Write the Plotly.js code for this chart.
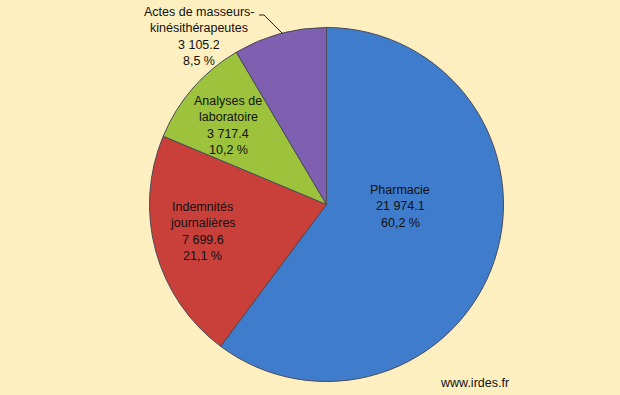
<!DOCTYPE html>
<html>
<head>
<meta charset="utf-8">
<script src="https://cdn.plot.ly/plotly-3.0.1.min.js"></script>
<style>html,body{margin:0;padding:0;background:#FEEFC0;}#chart{width:620px;height:395px;}</style>
</head>
<body>
<div id="chart"></div>
<script>
const categories = ["Pharmacie", "Indemnités journalières", "Analyses de laboratoire", "Actes de masseurs-kinésithérapeutes"];
const labelLines = [["Pharmacie"], ["Indemnités", "journalières"], ["Analyses de", "laboratoire"], ["Actes de masseurs-", "kinésithérapeutes"]];
const values = [21974.1, 7699.6, 3717.4, 3105.2];
const percents = ["60,2 %", "21,1 %", "10,2 %", "8,5 %"];
const valueText = ["21 974.1", "7 699.6", "3 717.4", "3 105.2"];
const colors = ["#3F7CCB", "#C9403A", "#9DC23B", "#7F5FAF"];
// x centre and y of first line (pixels)
const labelPos = [[400, 190], [203, 207], [228, 101], [199, 12]];

const W = 620, H = 395;
const cx = 326.5, cy = 204.5, r = 177;
const lineStep = 16.3;
const font = {family: 'Liberation Sans, Arial, sans-serif', size: 12.5, color: '#111'};

const annotations = [];
categories.forEach((c, i) => {
  const lines = labelLines[i].concat([valueText[i], percents[i]]);
  lines.forEach((t, k) => {
    annotations.push({
      xref: 'paper', yref: 'paper',
      x: labelPos[i][0] / W, y: 1 - (labelPos[i][1] + k * lineStep) / H,
      xanchor: 'center', yanchor: 'middle',
      text: t, showarrow: false, font: font
    });
  });
});
annotations.push({
  xref: 'paper', yref: 'paper', x: 474 / W, y: 1 - 383 / H,
  xanchor: 'center', yanchor: 'middle', showarrow: false,
  text: 'www.irdes.fr', font: font
});

const p = (x, y) => (x / W) + ',' + (1 - y / H);

Plotly.newPlot('chart', [{
  type: 'pie',
  labels: categories,
  values: values,
  sort: false,
  direction: 'clockwise',
  rotation: 0,
  textinfo: 'none',
  hoverinfo: 'label+value+percent',
  marker: {colors: colors, line: {color: '#4a4a5a', width: 1}},
  domain: {x: [(cx - r) / W, (cx + r) / W], y: [1 - (cy + r) / H, 1 - (cy - r) / H]},
  showlegend: false
}], {
  width: W, height: H,
  margin: {l: 0, r: 0, t: 0, b: 0},
  paper_bgcolor: '#FEEFC0',
  plot_bgcolor: '#FEEFC0',
  annotations: annotations,
  shapes: [{
    type: 'path', xref: 'paper', yref: 'paper',
    path: 'M' + p(259, 15) + ' L' + p(264, 15) + ' L' + p(283, 34),
    line: {color: '#222', width: 1}
  }]
}, {staticPlot: true});
</script>
</body>
</html>
